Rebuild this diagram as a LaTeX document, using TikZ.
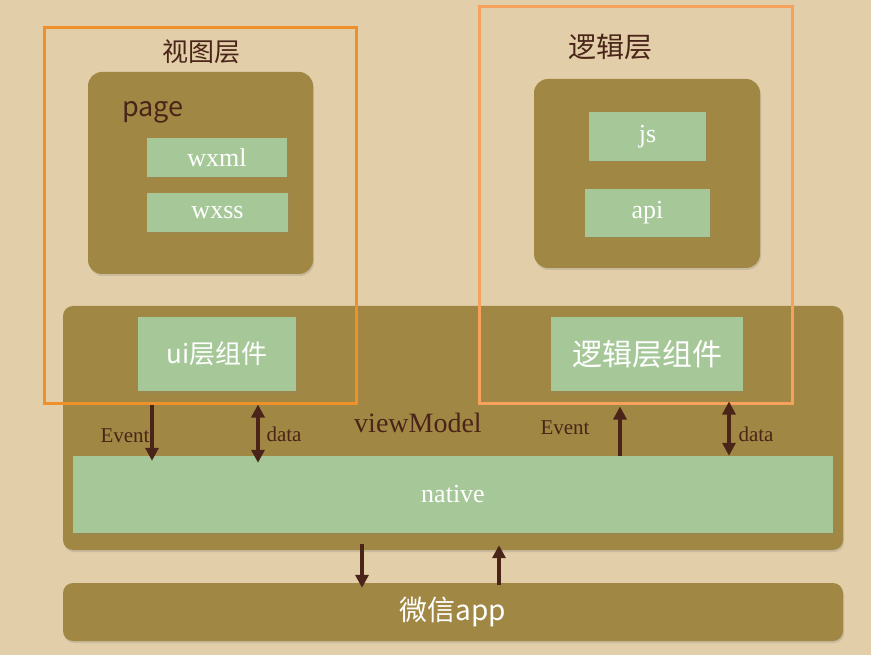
\documentclass[tikz,border=0pt]{standalone}
\usepackage{fontspec}
\setmainfont{Liberation Serif}
\newfontfamily\cjk{Noto Sans CJK SC}
\usetikzlibrary{arrows.meta, shadows}
\definecolor{paper}{RGB}{226,206,168}
\definecolor{mudbox}{RGB}{160,136,68}
\definecolor{leaf}{RGB}{166,200,153}
\definecolor{ink}{RGB}{74,36,24}
\definecolor{frameL}{RGB}{240,144,42}
\definecolor{frameR}{RGB}{246,162,92}

\begin{document}
\begin{tikzpicture}[x=1pt, y=-1pt,
  layer/.style={fill=mudbox, rounded corners=14pt, inner sep=0pt, text=white,
    drop shadow={shadow xshift=1pt, shadow yshift=-2pt, opacity=0.25}},
  part/.style={fill=leaf, inner sep=0pt, text=white, font=\fontsize{26}{30}\selectfont,
    drop shadow={shadow xshift=1pt, shadow yshift=-1.5pt, opacity=0.2}},
  frame/.style={draw, line width=3pt, inner sep=0pt},
  arr/.style={draw=ink, line width=3.2pt, >={Triangle[length=13pt, width=13pt]}},
  lbl/.style={text=ink, inner sep=0pt, font=\fontsize{21}{24}\selectfont},
  title/.style={text=ink, font=\cjk\fontsize{26}{30}\selectfont}]
\fill[paper] (0,0) rectangle (871,655);
\useasboundingbox (0,0) rectangle (871,655);
%Layers
\node[layer, minimum width=225pt, minimum height=202pt] (page) at (200.5,173) {};
\node[layer, minimum width=226pt, minimum height=189pt] (logic) at (647,173.5) {};
\node[layer, rounded corners=10pt, minimum width=780pt, minimum height=244pt] (vm) at (453,428) {};
\node[layer, rounded corners=10pt, minimum width=780pt, minimum height=58pt,
  font=\cjk\fontsize{28}{32}\selectfont] (app) at (453,612) {微信app};
%Parts
\node[part, minimum width=140pt, minimum height=39pt] (wxml) at (217,157.5) {wxml};
\node[part, minimum width=141pt, minimum height=39pt] (wxss) at (217.5,212.5) {wxss};
\node[part, minimum width=117pt, minimum height=49pt] (js) at (647.5,136.5) {js};
\node[part, minimum width=125pt, minimum height=48pt] (api) at (647.5,213) {api};
\node[part, minimum width=158pt, minimum height=74pt, font=\cjk\fontsize{26}{30}\selectfont] (uicomp) at (217,354) {ui层组件};
\node[part, minimum width=192pt, minimum height=74pt, font=\cjk\fontsize{30}{34}\selectfont] (logiccomp) at (647,354) {逻辑层组件};
\node[part, minimum width=760pt, minimum height=77pt] (native) at (453,494.5) {native};
%Frames
\node[frame, draw=frameL, minimum width=312pt, minimum height=375pt] (viewframe) at (200,215.5) {};
\node[frame, draw=frameR, minimum width=313pt, minimum height=396pt] (logicframe) at (635.5,205) {};
%Arrows
\coordinate (evL) at (152,0);
\coordinate (daL) at (258,0);
\coordinate (evR) at (620,0);
\coordinate (daR) at (729,0);
\coordinate (dn) at (362,0);
\coordinate (up) at (499,0);
\draw[arr, ->, shorten >=-5pt] (viewframe.south -| evL) -- (native.north -| evL);
\draw[arr, <->, shorten >=-7pt] (viewframe.south -| daL) -- (native.north -| daL);
\draw[arr, ->, shorten >=2pt] (native.north -| evR) -- (logicframe.south -| evR);
\draw[arr, <->, shorten <=-3pt] (logicframe.south -| daR) -- (native.north -| daR);
\draw[arr, ->, shorten <=-6pt, shorten >=-5pt] (vm.south -| dn) -- (app.north -| dn);
\draw[arr, ->, shorten <=-2pt, shorten >=-5pt] (app.north -| up) -- (vm.south -| up);
%Text
\node[title] (viewtitle) at (201,52) {视图层};
\node[title, font=\cjk\fontsize{28}{32}\selectfont] (logictitle) at (610,47) {逻辑层};
\node[lbl, font=\cjk\fontsize{27}{30}\selectfont, anchor=base west] (pagelbl) at (122,117) {page};
\node[lbl, anchor=base] (evLlbl) at (125,442) {Event};
\node[lbl, anchor=base] (daLlbl) at (284,441) {data};
\node[lbl, anchor=base] (evRlbl) at (565,434) {Event};
\node[lbl, anchor=base] (daRlbl) at (756,441) {data};
\node[lbl, font=\fontsize{28}{32}\selectfont, anchor=base] (vmlbl) at (418,432) {viewModel};
\end{tikzpicture}
\end{document}
